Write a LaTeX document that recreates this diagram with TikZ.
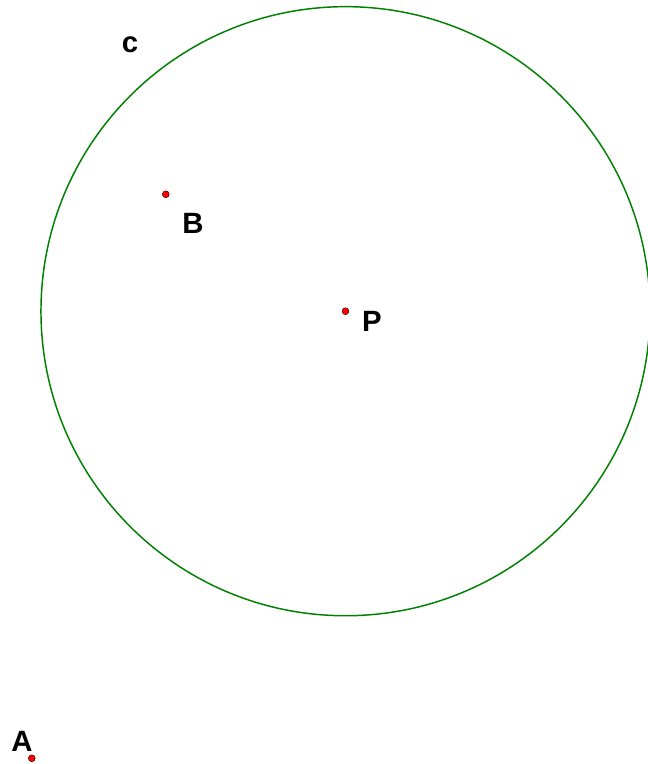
\documentclass[tikz,border=0pt]{standalone}
\usepackage{fontspec}
\setmainfont{Liberation Sans}
\usepackage{tikz}
\usetikzlibrary{positioning}

\begin{document}
\begin{tikzpicture}[
    x=0.75pt, y=-0.75pt,
    every node/.style={font=\fontsize{22}{22}\selectfont\bfseries},
    pt/.style={circle, draw=black, fill=red, line width=0.3pt, inner sep=0pt, minimum size=5.2pt},
    circ/.style={draw=green!50!black, line width=1.1pt},
    name text/.style={inner sep=0pt, text=black}
]
    \useasboundingbox (0,0) rectangle (647,764);

    % --- Points ---
    \node[pt] (P) at (345.5,311.2) {};
    \node[pt] (B) at (165.8,194.3) {};
    \node[pt] (A) at (31.8,758.3) {};

    % --- Circle c about P ---
    \draw[circ] (P.center) circle (228.4pt);

    % --- Labels ---
    \node[name text] (lc) at (130,45) {c};
    \node[name text] (lB) at (193,223) {B};
    \node[name text] (lP) at (372,321) {P};
    \node[name text] (lA) at (22,741) {A};
\end{tikzpicture}
\end{document}
